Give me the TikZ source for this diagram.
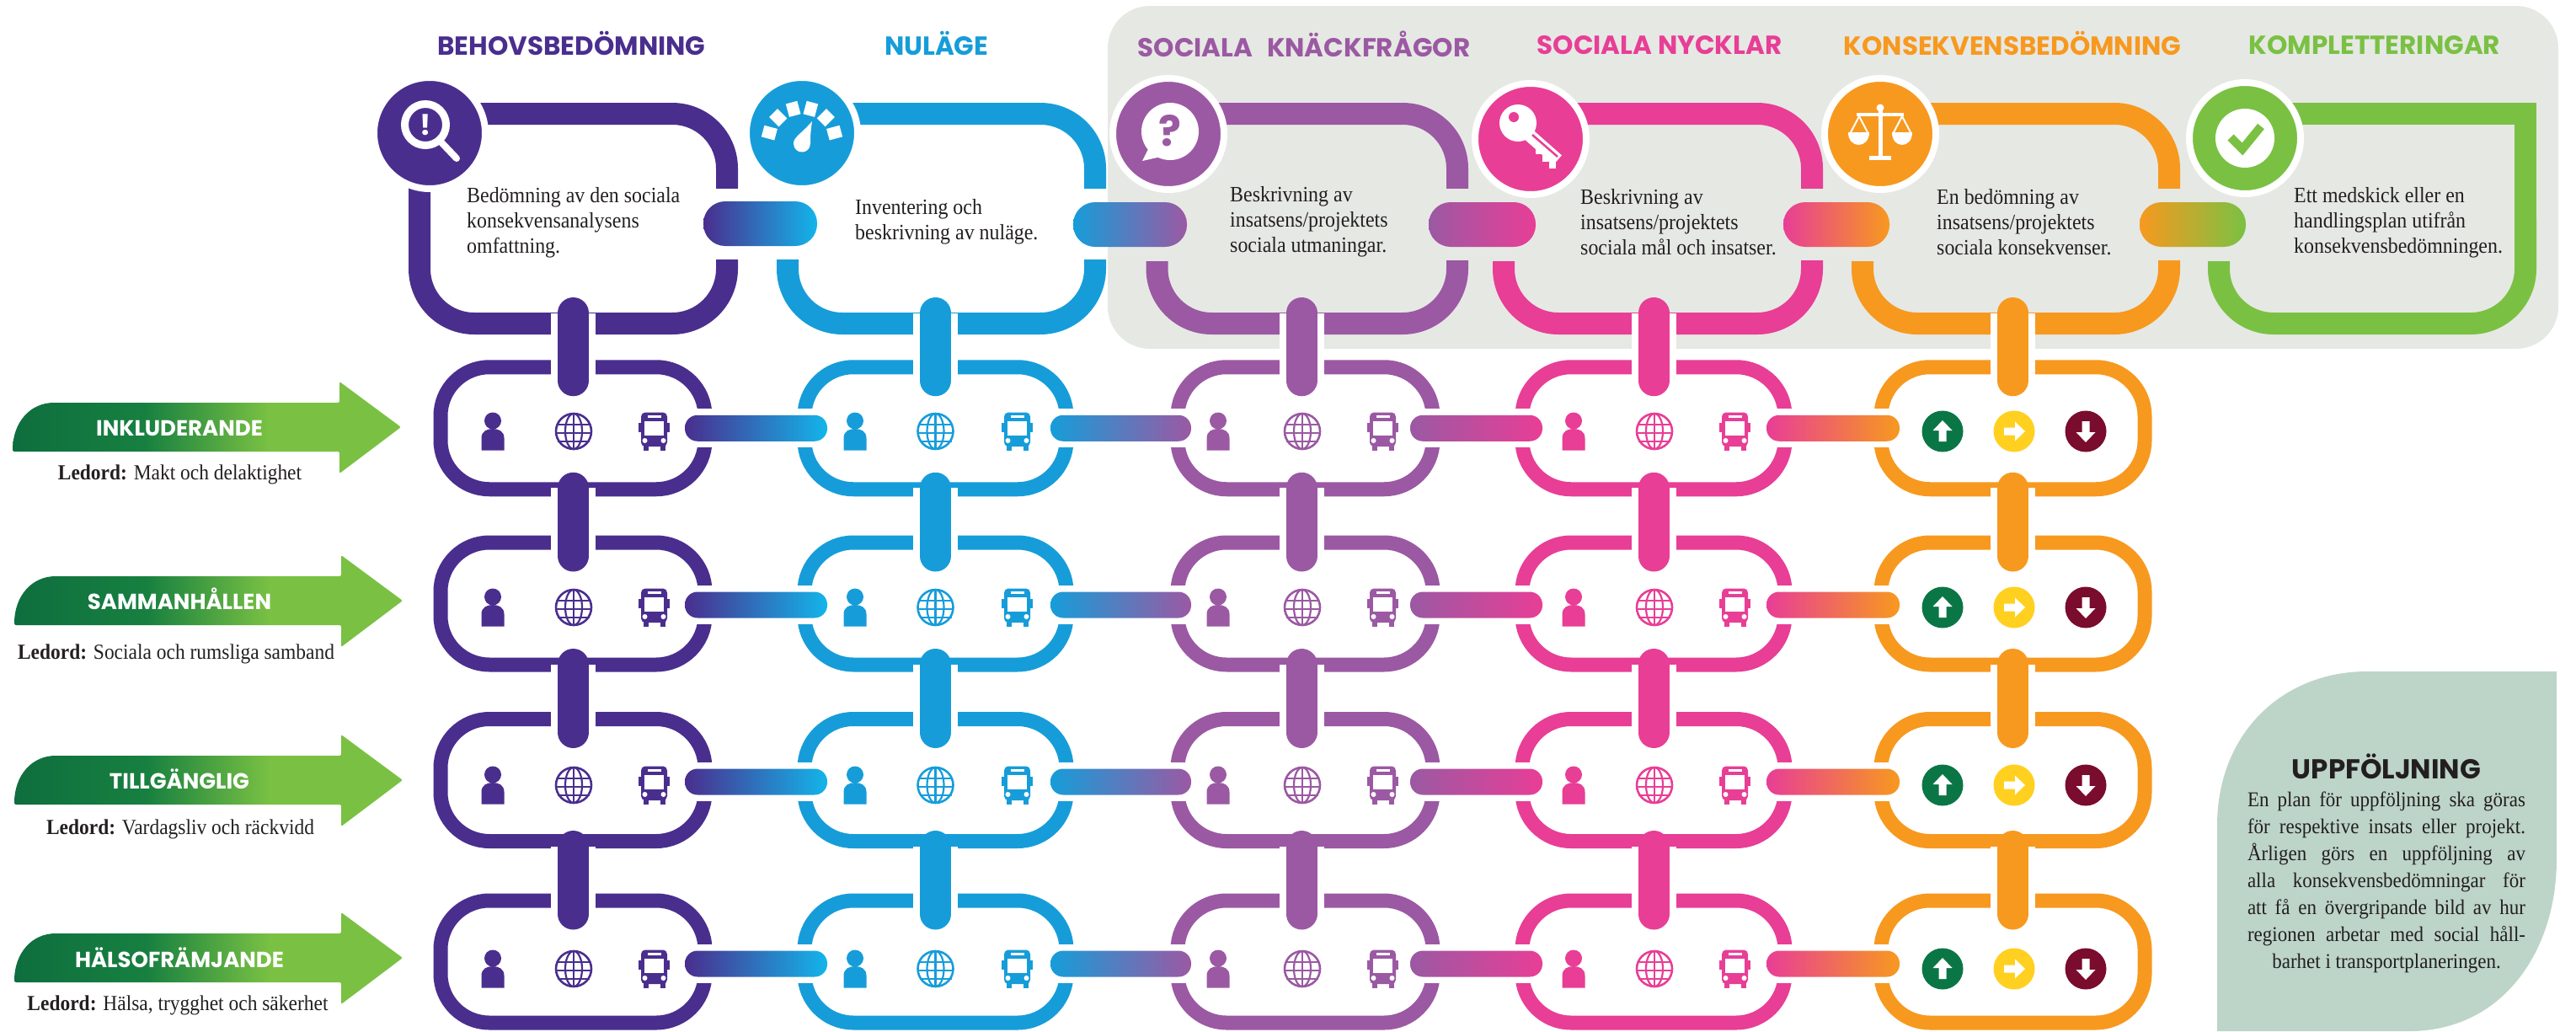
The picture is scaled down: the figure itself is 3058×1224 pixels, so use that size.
\documentclass[tikz,border=0pt]{standalone}
\usepackage{fontspec}
\usepackage{xcolor}
\usetikzlibrary{calc}
\setmainfont[FakeStretch=0.92]{Liberation Serif}
\newfontfamily\headfont{Poppins}
\definecolor{cbehov}{HTML}{4A2E8E}
\definecolor{cnu}{HTML}{169DD9}
\definecolor{cnucl}{HTML}{13B5EA}
\definecolor{cknack}{HTML}{9B59A3}
\definecolor{cnyckel}{HTML}{E83E96}
\definecolor{ckons}{HTML}{F7991F}
\definecolor{ckompl}{HTML}{7AC143}
\definecolor{cpanel}{HTML}{E6E8E4}
\definecolor{cuppf}{HTML}{BDD5C8}
\definecolor{cdark}{HTML}{0E6E3E}
\definecolor{cdark2}{HTML}{178040}
\definecolor{cup}{HTML}{0B7645}
\definecolor{cright}{HTML}{FFD020}
\definecolor{cdown}{HTML}{7A0C2E}
\definecolor{ink}{HTML}{231F20}
\pgfdeclarehorizontalshading{arrowgreen}{100bp}{color(0bp)=(cdark); color(25bp)=(cdark); color(42bp)=(cdark2); color(58bp)=(ckompl); color(100bp)=(ckompl)}
\tikzset{
  topframe/.style={draw,rectangle,line width=26pt,rounded corners=65pt,minimum width=#1,minimum height=249pt,outer sep=0pt},
  rowframe/.style={draw,rectangle,line width=17pt,rounded corners=58pt,minimum width=#1,minimum height=145pt,outer sep=0pt},
  cutpart/.style={fill=cpanel},
  badge/.style={circle,draw=white,line width=8pt,minimum size=132pt,outer sep=0pt},
  dotmark/.style={circle,minimum size=49pt,outer sep=0pt},
  vlink/.style={line width=37pt,line cap=round,preaction={draw=white,line width=53pt}},
  titletext/.style={anchor=base,font=\headfont\bfseries\fontsize{31}{31}\selectfont},
  arrowtext/.style={anchor=base,font=\headfont\bfseries\fontsize{26}{26}\selectfont,text=white},
  bodytext/.style={align=left,anchor=west,text=ink,font=\fontsize{26}{30}\selectfont},
  ledtext/.style={anchor=base,text=ink,font=\fontsize{25.5}{25.5}\selectfont},
  person/.pic={
    \fill (0,-12.5) circle (10);
    \fill (-13.5,22.5) -- (-13.5,8) .. controls (-13.5,0) and (-7,-3) .. (0,-3) .. controls (7,-3) and (13.5,0) .. (13.5,8) -- (13.5,22.5) -- cycle;
  },
  globe/.pic={
    \draw [line width=2.6pt] (0,0) circle (21);
    \draw [line width=2.2pt] (0,0) ellipse (10 and 21);
    \draw [line width=2.2pt] (0,-21) -- (0,21);
    \draw [line width=2.2pt] (-20,-8) -- (20,-8);
    \draw [line width=2.2pt] (-21,2) -- (21,2);
    \draw [line width=2.2pt] (-19,12) -- (19,12);
  },
  bus/.pic={
    \fill [rounded corners=5pt] (-15.5,-22.5) rectangle (15.5,18);
    \fill (-18.5,-10) rectangle (18.5,1);
    \fill (-13,16) rectangle (-7,22.5);
    \fill (7,16) rectangle (13,22.5);
    \fill [white] (-11.5,-12) rectangle (11.5,5);
    \fill [white] (-8,-19) rectangle (8,-16);
    \fill [white] (-11,11) circle (3);
    \fill [white] (11,11) circle (3);
  },
  arrowup/.pic={
    \fill [white] (0,-13) -- (11.5,-1) -- (4.5,-1) -- (4.5,12) -- (-4.5,12) -- (-4.5,-1) -- (-11.5,-1) -- cycle;
  },
  magnifier/.pic={
    \draw [white,line width=9pt] (-5,-10) circle (24.5);
    \draw [white,line width=8pt,line cap=round] (13,10) -- (32,30);
    \node [white,font=\headfont\bfseries\fontsize{34}{34}\selectfont] (excl) at (-5,-10) {!};
  },
  gauge/.pic={
    \foreach \a in {15,45,75,105,135,165}
      \draw [white,line width=14pt] ({32*cos(\a)},{10-32*sin(\a)}) -- ({48*cos(\a)},{10-48*sin(\a)});
    \fill [white] (12,-14) .. controls (10,0) and (10,5) .. (10,12) .. controls (10,26) and (-10,26) .. (-10,12) .. controls (-10,5) and (0,0) .. (12,-14);
  },
  bubble/.pic={
    \fill [white] (2,-3) circle (34);
    \fill [white] (-20,10) -- (-31,32) -- (0,25) -- cycle;
    \node [text=cknack,font=\headfont\bfseries\fontsize{50}{50}\selectfont] (qmark) at (2,-4) {?};
  },
  keyshape/.pic={
    \fill [white] (-15,-19) circle (22);
    \fill [cnyckel] (-20,-26) circle (6);
    \draw [white,line width=15pt] (-2,-5) -- (32,25);
    \draw [cnyckel,line width=2.5pt] (2,-5) -- (32,21);
    \fill [white] (6,10) rectangle (14,18);
    \fill [white] (14,19) rectangle (22,27);
    \fill [white] (22,27) rectangle (30,35);
  },
  scales/.pic={
    \fill [white] (-2.5,-32) rectangle (2.5,28);
    \fill [white] (0,-31) circle (4.5);
    \fill [white] (-28,-25) rectangle (28,-21);
    \fill [white] (-13,26) rectangle (13,31);
    \draw [white,line width=2pt] (-36,0) -- (-25,-21) -- (-14,0);
    \draw [white,line width=2pt] (15,0) -- (26,-21) -- (37,0);
    \fill [white] (-38,-2) .. controls (-38,18) and (-13,18) .. (-13,-2) -- cycle;
    \fill [white] (14,-2) .. controls (14,18) and (38,18) .. (38,-2) -- cycle;
  }
}
\begin{document}
\begin{tikzpicture}[x=1pt,y=-1pt]
\tikzstyle{every node}+=[inner sep=0pt]
\useasboundingbox (0,0) rectangle (3058,1224);
\node [fill=cpanel,rounded corners=50pt,minimum width=1722pt,minimum height=407pt] (panel) at (2176,210.5) {};
\fill [cuppf] (2632,1224) -- (2632,980) .. controls (2632,870) and (2710,797) .. (2810,797) -- (3035,797) -- (3035,1020) .. controls (3035,1130) and (2970,1224) .. (2860,1224) -- cycle;
\node [topframe=365pt,draw=cbehov] (behov) at (680.5,259.5) {};
\node [topframe=365pt,draw=cnu] (nulage) at (1117.5,259.5) {};
\node [topframe=356.5pt,draw=cknack] (knack) at (1551.75,259.5) {};
\node [topframe=366pt,draw=cnyckel] (nyckel) at (1968,259.5) {};
\node [topframe=364pt,draw=ckons] (kons) at (2393,259.5) {};
\node [rectangle,minimum width=364pt,minimum height=249pt,outer sep=0pt] (kompl) at (2816,259.5) {};
\draw [ckompl,line width=26pt,rounded corners=65pt] (kompl.east) -- (kompl.south east) -- (kompl.south west) -- (kompl.west);
\draw [ckompl,line width=26pt] (kompl.east) -- (kompl.north east) -- ++(-300,0);
\fill [white] (849,224) rectangle (877,308);
\fill [white] (921,195) rectangle (949,308);
\fill [white] (1286,224) rectangle (1314,308);
\fill [cutpart] (1359,195) rectangle (1388,310);
\fill [cutpart] (1716,224) rectangle (1744,309);
\fill [cutpart] (1771,195) rectangle (1799,310);
\fill [cutpart] (2137,224) rectangle (2165,309);
\fill [cutpart] (2197,195) rectangle (2225,310);
\fill [cutpart] (2561,224) rectangle (2589,309);
\fill [cutpart] (2620,195) rectangle (2648,310);
\foreach \r/\y in {1/508.25,2/716.5,3/926,4/1141.5} {
  \foreach \c/\cx/\w/\col in {1/680/314/cbehov,2/1110.5/311/cnu,3/1549.5/303/cknack,4/1963/312/cnyckel,5/2389.5/313/ckons}
    \node [rowframe=\w pt,draw=\col] (r\r c\c) at (\cx,\y) {};
}
\foreach \c/\cx/\top/\col in {1/680.5/behov/cbehov,2/1110.5/nulage/cnu,3/1545/knack/cknack,4/1963/nyckel/cnyckel,5/2389.5/kons/ckons} {
  \coordinate (col\c) at (\cx,0);
  \draw [vlink,draw=\col,shorten <=-12.5pt,shorten >=-16pt] (col\c |- \top.south) -- (col\c |- r1c\c.north);
  \foreach \ra/\rb/\sa in {1/2/-1.5,2/3/-0.5,3/4/6}
    \draw [vlink,draw=\col,shorten <=\sa pt,shorten >=-16pt] (col\c |- r\ra c\c.south) -- (col\c |- r\rb c\c.north);
}
\path [left color=cbehov,right color=cnucl,rounded corners=26pt] ($(behov.east)+(-28,-20.5)$) rectangle ($(nulage.west)+(35,32.5)$);
\path [left color=cnu,right color=cknack,rounded corners=26pt] ($(nulage.east)+(-26,-19.5)$) rectangle ($(knack.west)+(35.5,33.5)$);
\path [left color=cknack,right color=cnyckel,rounded corners=26pt] ($(knack.east)+(-34,-19.5)$) rectangle ($(nyckel.west)+(38,33.5)$);
\path [left color=cnyckel,right color=ckons,rounded corners=26pt] ($(nyckel.east)+(-34,-19.5)$) rectangle ($(kons.west)+(32,33.5)$);
\path [left color=ckons,right color=ckompl,rounded corners=26pt] ($(kons.east)+(-35,-19.5)$) rectangle ($(kompl.west)+(32,33.5)$);
\foreach \r/\dy/\iy in {1/0/512,2/1.5/721,3/2/932,4/2.5/1150} {
  \foreach \a/\b/\da/\db/\ca/\cb in {1/2/-24/27/cbehov/cnucl,2/3/-19/16/cnu/cknack,3/4/-27/24/cknack/cnyckel,4/5/-22/22/cnyckel/ckons} {
    \fill [white] ($(r\r c\a.east)+(\da-8,\dy-23)$) rectangle ($(r\r c\b.west)+(\db+8,\dy+23)$);
    \path [left color=\ca,right color=\cb,rounded corners=15pt] ($(r\r c\a.east)+(\da,\dy-15.5)$) rectangle ($(r\r c\b.west)+(\db,\dy+15.5)$);
  }
  \foreach \px/\gx/\bx/\col in {585/681/776.5/cbehov,1015/1110.5/1207.5/cnu,1446/1546/1641.5/cknack,1868/1964/2059.5/cnyckel} {
    \pic [color=\col] at (\px,\iy) {person};
    \pic [color=\col] at (\gx,\iy) {globe};
    \pic [color=\col] at (\bx,\iy) {bus};
  }
  \node [dotmark,fill=cup] (up\r) at (2306,\iy) {};
  \node [dotmark,fill=cright] (right\r) at (2391,\iy) {};
  \node [dotmark,fill=cdown] (down\r) at (2476,\iy) {};
  \pic at (up\r) {arrowup};
  \pic [rotate=-90] at (right\r) {arrowup};
  \pic [rotate=180] at (down\r) {arrowup};
}
\node [badge,fill=cbehov] (behovicon) at (510,158) {};
\node [badge,fill=cnu] (nuicon) at (952,158) {};
\node [badge,fill=cknack] (knackicon) at (1387,159) {};
\node [badge,fill=cnyckel] (nyckelicon) at (1817,165) {};
\node [badge,fill=ckons] (konsicon) at (2232,159) {};
\node [badge,fill=ckompl] (komplicon) at (2665,164) {};
\pic at (behovicon) {magnifier};
\pic at (nuicon) {gauge};
\pic at (knackicon) {bubble};
\pic at (nyckelicon) {keyshape};
\pic at (konsicon) {scales};
\fill [white] (komplicon) circle (35);
\draw [ckompl,line width=10pt] (2648,163) -- (2662,177) -- (2684,150);
\node [titletext,text=cbehov] (t1) at (678.5,65.5) {BEHOVSBEDÖMNING};
\node [titletext,text=cnu] (t2) at (1111.7,65.5) {NULÄGE};
\node [titletext,text=cknack] (t3) at (1548,67.5) {SOCIALA\hspace{10pt} KNÄCKFRÅGOR};
\node [titletext,text=cnyckel] (t4) at (1970,64) {SOCIALA NYCKLAR};
\node [titletext,text=ckons] (t5) at (2389,65.5) {KONSEKVENSBEDÖMNING};
\node [titletext,text=ckompl] (t6) at (2819,64) {KOMPLETTERINGAR};
\node [bodytext] (d1) at (554,264) {Bedömning av den sociala\\konsekvensanalysens\\omfattning.};
\node [bodytext] (d2) at (1015,263) {Inventering och\\beskrivning av nuläge.};
\node [bodytext] (d3) at (1460,263) {Beskrivning av\\insatsens/projektets\\sociala utmaningar.};
\node [bodytext] (d4) at (1876,264) {Beskrivning av\\insatsens/projektets\\sociala mål och insatser.};
\node [bodytext] (d5) at (2299,264) {En bedömning av\\insatsens/projektets\\sociala konsekvenser.};
\node [bodytext] (d6) at (2723,264) {Ett medskick eller en\\handlingsplan utifrån\\konsekvensbedömningen.};
\foreach \n/\ty/\sx/\lab/\txty/\ley/\lex/\led in {1/478/-2/INKLUDERANDE/517/569/213.5/Makt och delaktighet,2/684/0/SAMMANHÅLLEN/723/782/209/Sociala och rumsliga samband,3/897/0/TILLGÄNGLIG/936/990/214/Vardagsliv och räckvidd,4/1108/0/HÄLSOFRÄMJANDE/1148/1199/211/{Hälsa, trygghet och säkerhet}} {
  \path [shading=arrowgreen,rounded corners=2pt] (17+\sx,\ty+58) .. controls (17+\sx,\ty+23) and (38+\sx,\ty) .. (68+\sx,\ty) -- (405+\sx,\ty) -- (405+\sx,\ty-25) -- (478+\sx,\ty+29) -- (405+\sx,\ty+84) -- (405+\sx,\ty+58) -- cycle;
  \node [arrowtext] (a\n) at (213,\txty) {\lab};
  \node [ledtext] (l\n) at (\lex,\ley) {\textbf{Ledord:} \led};
}
\node [anchor=base,text=ink,font=\headfont\bfseries\fontsize{32.5}{32.5}\selectfont] (uppt) at (2833,924) {UPPFÖLJNING};
\node [text=ink,align=center,font=\fontsize{25}{32}\selectfont,anchor=north] (uppd) at (2833,940) {%
\makebox[330pt][s]{En plan för uppföljning ska göras}\\
\makebox[330pt][s]{för respektive insats eller projekt.}\\
\makebox[330pt][s]{Årligen görs en uppföljning av}\\
\makebox[330pt][s]{alla konsekvensbedömningar för}\\
\makebox[330pt][s]{att få en övergripande bild av hur}\\
\makebox[330pt][s]{regionen arbetar med social håll-}\\
barhet i transportplaneringen.};
\end{tikzpicture}
\end{document}
